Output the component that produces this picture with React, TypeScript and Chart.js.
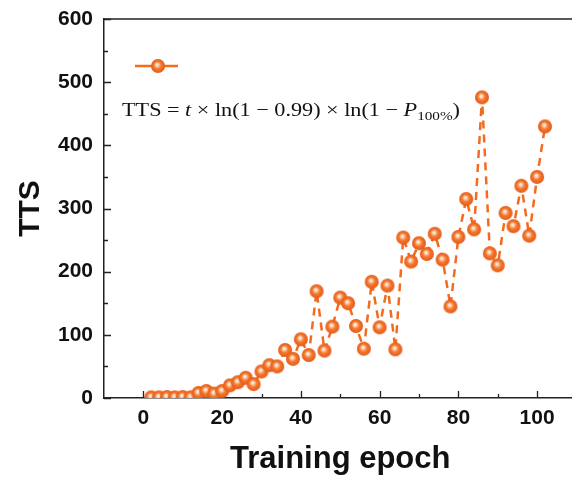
import { useEffect, useRef } from 'react';
import { Chart, registerables } from 'chart.js';

Chart.register(...registerables);

const epochs = [2, 4, 6, 8, 10, 12, 14, 16, 18, 20, 22, 24, 26, 28, 30, 32, 34, 36, 38, 40, 42, 44, 46, 48, 50, 52, 54, 56, 58, 60, 62, 64, 66, 68, 70, 72, 74, 76, 78, 80, 82, 84, 86, 88, 90, 92, 94, 96, 98, 100, 102];
const ttsValues = [1, 1, 1.5, 1, 1.5, 1, 8, 11, 7, 11, 20, 25, 32, 22, 42, 52, 50, 76, 62, 93, 68, 169, 75, 113, 159, 150, 114, 78, 184, 112, 178, 77, 254, 216, 245, 228, 260, 219, 145, 255, 315, 267, 476, 229, 210, 293, 272, 336, 257, 350, 430];
const xTickValues = [0, 20, 40, 60, 80, 100];
const xMinorValues = [10, 30, 50, 70, 90];
const yTickValues = [0, 100, 200, 300, 400, 500, 600];
const yMinorValues = [50, 150, 250, 350, 450, 550];
const xLabel = 'Training epoch';
const yLabel = 'TTS';

const ORANGE = '#F26B1F';
const AXIS = '#222222';

function makeSphere(r: number): HTMLCanvasElement {
  const c = document.createElement('canvas');
  const s = Math.ceil(r * 2 + 2);
  c.width = s;
  c.height = s;
  const g = c.getContext('2d')!;
  const cx = s / 2;
  const cy = s / 2;
  const grad = g.createRadialGradient(cx - 1, cy - 1.5, 0.3, cx, cy, r);
  grad.addColorStop(0, '#FFF6EE');
  grad.addColorStop(0.18, '#FCD2B4');
  grad.addColorStop(0.5, '#F5792C');
  grad.addColorStop(1, '#E4591A');
  g.fillStyle = grad;
  g.beginPath();
  g.arc(cx, cy, r, 0, Math.PI * 2);
  g.fill();
  return c;
}

export default function App() {
  const ref = useRef<HTMLCanvasElement | null>(null);

  useEffect(() => {
    if (!ref.current) return;
    const sphere = makeSphere(7);

    const framePlugin = {
      id: 'frameTicks',
      beforeDatasetsDraw(chart: any) {
        const ctx = chart.ctx;
        const { left, right, top, bottom } = chart.chartArea;
        const xs = chart.scales.x;
        const ys = chart.scales.y;
        ctx.save();
        ctx.strokeStyle = AXIS;
        ctx.lineWidth = 1.5;
        ctx.beginPath();
        ctx.moveTo(left, top);
        ctx.lineTo(right, top);
        ctx.lineTo(right, bottom);
        ctx.stroke();
        ctx.lineWidth = 1.3;
        ctx.beginPath();
        xTickValues.forEach((v) => {
          const px = Math.round(xs.getPixelForValue(v)) + 0.5;
          ctx.moveTo(px, bottom);
          ctx.lineTo(px, bottom - 7);
        });
        xMinorValues.forEach((v) => {
          const px = Math.round(xs.getPixelForValue(v)) + 0.5;
          ctx.moveTo(px, bottom);
          ctx.lineTo(px, bottom - 4);
        });
        yTickValues.forEach((v) => {
          const py = Math.round(ys.getPixelForValue(v)) + 0.5;
          ctx.moveTo(left, py);
          ctx.lineTo(left + 7, py);
        });
        yMinorValues.forEach((v) => {
          const py = Math.round(ys.getPixelForValue(v)) + 0.5;
          ctx.moveTo(left, py);
          ctx.lineTo(left + 4, py);
        });
        ctx.stroke();
        ctx.restore();
      },
      afterDraw(chart: any) {
        const ctx = chart.ctx;
        ctx.save();
        // legend
        ctx.strokeStyle = ORANGE;
        ctx.lineWidth = 2.5;
        ctx.beginPath();
        ctx.moveTo(135, 66);
        ctx.lineTo(178, 66);
        ctx.stroke();
        ctx.drawImage(sphere, 158 - sphere.width / 2, 66 - sphere.height / 2);

        // formula
        const base = '19px "Liberation Serif", "DejaVu Serif", serif';
        const ital = 'italic 19px "Liberation Serif", "DejaVu Serif", serif';
        const sub = '13px "Liberation Serif", "DejaVu Serif", serif';
        const tokens = [
          { t: 'TTS', f: base, dy: 0 },
          { t: ' = ', f: base, dy: 0 },
          { t: 't', f: ital, dy: 0 },
          { t: ' × ', f: base, dy: 0 },
          { t: 'ln(1 − 0.99)', f: base, dy: 0 },
          { t: ' × ', f: base, dy: 0 },
          { t: 'ln(1 − ', f: base, dy: 0 },
          { t: 'P', f: ital, dy: 0 },
          { t: '100%', f: sub, dy: 4 },
          { t: ')', f: base, dy: 0 },
        ];
        let total = 0;
        const widths = tokens.map((tk) => {
          ctx.font = tk.f;
          const w = ctx.measureText(tk.t).width;
          total += w;
          return w;
        });
        const sx = 338 / total;
        ctx.translate(122, 116);
        ctx.scale(sx, 1);
        ctx.fillStyle = '#111111';
        ctx.textBaseline = 'alphabetic';
        ctx.textAlign = 'left';
        let x = 0;
        tokens.forEach((tk, i) => {
          ctx.font = tk.f;
          ctx.fillText(tk.t, x, tk.dy);
          x += widths[i];
        });
        ctx.restore();
      },
    };

    const chart = new Chart(ref.current, {
      type: 'line',
      data: {
        datasets: [
          {
            label: 'TTS',
            data: epochs.map((e, i) => ({ x: e, y: ttsValues[i] })),
            borderColor: ORANGE,
            backgroundColor: ORANGE,
            borderWidth: 2.5,
            borderDash: [8, 6],
            pointStyle: sphere as any,
            pointRadius: 7,
            pointHoverRadius: 7,
            tension: 0,
            fill: false,
          },
        ],
      },
      options: {
        responsive: false,
        animation: false,
        devicePixelRatio: 1,
        layout: { padding: { top: 19, right: 4, left: 0, bottom: 0 } },
        plugins: { legend: { display: false }, tooltip: { enabled: false } },
        scales: {
          x: {
            type: 'linear',
            min: -10,
            max: 110,
            afterBuildTicks: (s: any) => {
              s.ticks = xTickValues.map((v) => ({ value: v }));
            },
            afterFit: (s: any) => {
              s.height = 80;
            },
            grid: { display: false },
            border: { display: true, color: AXIS, width: 1.5 },
            ticks: {
              color: '#111111',
              padding: 0,
              maxRotation: 0,
              font: { family: 'Liberation Sans, Arial, sans-serif', size: 21, weight: 'bold' },
            },
            title: {
              display: true,
              text: xLabel,
              color: '#111111',
              padding: { top: 0, bottom: 0 },
              font: { family: 'Liberation Sans, Arial, sans-serif', size: 31, weight: 'bold' },
            },
          },
          y: {
            type: 'linear',
            min: 0,
            max: 600,
            afterBuildTicks: (s: any) => {
              s.ticks = yTickValues.map((v) => ({ value: v }));
            },
            afterFit: (s: any) => {
              s.width = 104;
            },
            grid: { display: false },
            border: { display: true, color: AXIS, width: 1.5 },
            ticks: {
              color: '#111111',
              padding: 3,
              font: { family: 'Liberation Sans, Arial, sans-serif', size: 21, weight: 'bold' },
            },
            title: {
              display: true,
              text: yLabel,
              color: '#111111',
              padding: { top: 13, bottom: 0 },
              font: { family: 'Liberation Sans, Arial, sans-serif', size: 30, weight: 'bold' },
            },
          },
        },
      },
      plugins: [framePlugin],
    } as any);

    return () => {
      chart.destroy();
    };
  }, []);

  return (
    <div style={{ position: 'fixed', left: 0, top: 0, width: 572, height: 478, overflow: 'hidden', background: '#ffffff' }}>
      <canvas ref={ref} width={586} height={478} style={{ width: 586, height: 478, display: 'block' }} />
    </div>
  );
}
